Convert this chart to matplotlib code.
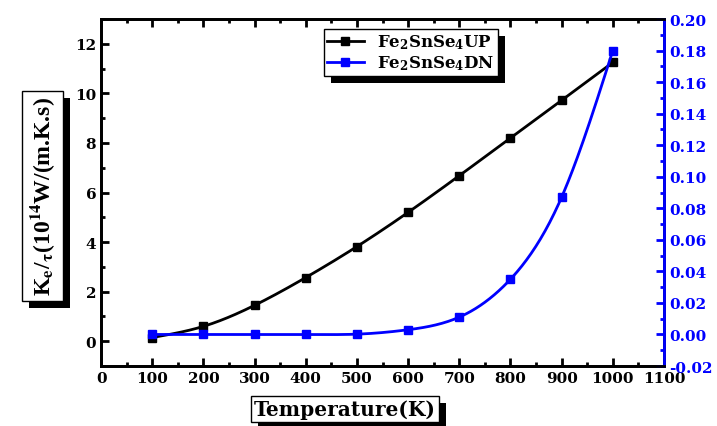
import numpy as np
import matplotlib
matplotlib.use("Agg")
import matplotlib.pyplot as plt
import matplotlib.patheffects as pe
from matplotlib.ticker import MultipleLocator

temps = [100, 200, 300, 400, 500, 600, 700, 800, 900, 1000]
ke_up = [0.15, 0.6, 1.45, 2.57, 3.82, 5.2, 6.68, 8.2, 9.72, 11.25]
ke_dn = [0.0, 0.0, 0.0, 0.0, 0.0002, 0.003, 0.011, 0.035, 0.087, 0.180]

plt.rcParams['font.family'] = 'DejaVu Serif'
plt.rcParams['font.weight'] = 'bold'
plt.rcParams['axes.labelweight'] = 'bold'
plt.rcParams['mathtext.fontset'] = 'dejavuserif'
plt.rcParams['mathtext.default'] = 'bf'


def spline(x, y, n=300):
    # natural cubic spline, just for drawing the smooth line
    x = np.asarray(x, float)
    y = np.asarray(y, float)
    k = len(x)
    h = np.diff(x)
    A = np.zeros((k, k))
    b = np.zeros(k)
    A[0, 0] = A[-1, -1] = 1
    for i in range(1, k - 1):
        A[i, i - 1] = h[i - 1]
        A[i, i] = 2 * (h[i - 1] + h[i])
        A[i, i + 1] = h[i]
        b[i] = 3 * ((y[i + 1] - y[i]) / h[i] - (y[i] - y[i - 1]) / h[i - 1])
    c = np.linalg.solve(A, b)
    xs = np.linspace(x[0], x[-1], n)
    idx = np.clip(np.searchsorted(x, xs) - 1, 0, k - 2)
    dx = xs - x[idx]
    hi = h[idx]
    bb = (y[idx + 1] - y[idx]) / hi - hi * (2 * c[idx] + c[idx + 1]) / 3
    dd = (c[idx + 1] - c[idx]) / (3 * hi)
    return xs, y[idx] + bb * dx + c[idx] * dx ** 2 + dd * dx ** 3


fig = plt.figure(figsize=(7.17, 4.27), dpi=100)
ax = fig.add_axes([0.141, 0.1405, 0.785, 0.8125])
ax2 = ax.twinx()

xs, ys = spline(temps, ke_up)
ax.plot(xs, ys, color='black', lw=2)
ax.plot(temps, ke_up, 's', color='black', ms=6)
l1, = ax.plot([], [], '-s', color='black', lw=2, ms=6, label=r'Fe$_2$SnSe$_4$UP')

xs, ys = spline(temps, ke_dn)
ax2.plot(xs, ys, color='blue', lw=2)
ax2.plot(temps, ke_dn, 's', color='blue', ms=6)
l2, = ax2.plot([], [], '-s', color='blue', lw=2, ms=6, label=r'Fe$_2$SnSe$_4$DN')

ax.set_xlim(0, 1100)
ax.set_ylim(-1, 13)
ax2.set_ylim(-0.02, 0.20)

ax.xaxis.set_major_locator(MultipleLocator(100))
ax.xaxis.set_minor_locator(MultipleLocator(50))
ax.yaxis.set_major_locator(MultipleLocator(2))
ax.yaxis.set_minor_locator(MultipleLocator(1))
ax2.yaxis.set_major_locator(MultipleLocator(0.02))
ax2.yaxis.set_minor_locator(MultipleLocator(0.01))

ax.tick_params(which='both', direction='in', top=True, width=2, labelsize=11)
ax.tick_params(which='major', length=6)
ax.tick_params(which='minor', length=3)
ax2.tick_params(which='both', direction='in', colors='blue', width=2, labelsize=11)
ax2.tick_params(which='major', length=6)
ax2.tick_params(which='minor', length=3)
ax2.set_yticks(ax2.get_yticks())
ax2.set_yticklabels([f'{v:.2f}' for v in ax2.get_yticks()])
ax2.set_ylim(-0.02, 0.20)

for s in ax.spines.values():
    s.set_linewidth(2)
for s in ax2.spines.values():
    s.set_linewidth(2)
ax2.spines['right'].set_color('blue')

shadow = [pe.withSimplePatchShadow(offset=(5, -5), shadow_rgbFace='black', alpha=1)]

xl = ax.set_xlabel('Temperature(K)', fontsize=14.5, fontweight='bold')
xl.set_bbox(dict(boxstyle='square,pad=0.15', fc='white', ec='black', lw=1))
xl.get_bbox_patch().set_path_effects(shadow)
ax.xaxis.set_label_coords(0.433, -0.095)

# narrower serif for the y label so it fits the tall box of the original
yl = ax.set_ylabel(r'K$_e$/$_\tau$(10$^{14}$W/(m.K.s)', fontsize=17, fontweight='bold',
                   family='Liberation Serif', math_fontfamily='stix')
yl.set_bbox(dict(boxstyle='square,pad=0.25', fc='white', ec='black', lw=1))
yl.get_bbox_patch().set_path_effects(shadow)
ax.yaxis.set_label_coords(-0.078, 0.49)

leg = ax.legend(handles=[l1, l2], loc='upper center', bbox_to_anchor=(0.55, 0.971),
                borderaxespad=0, fontsize=12, frameon=True, fancybox=False, framealpha=1,
                handlelength=2.2, borderpad=0.2, labelspacing=0.15, edgecolor='black')
leg.get_frame().set_linewidth(1)
leg.get_frame().set_path_effects(shadow)

fig.savefig('out.png', dpi=100)
